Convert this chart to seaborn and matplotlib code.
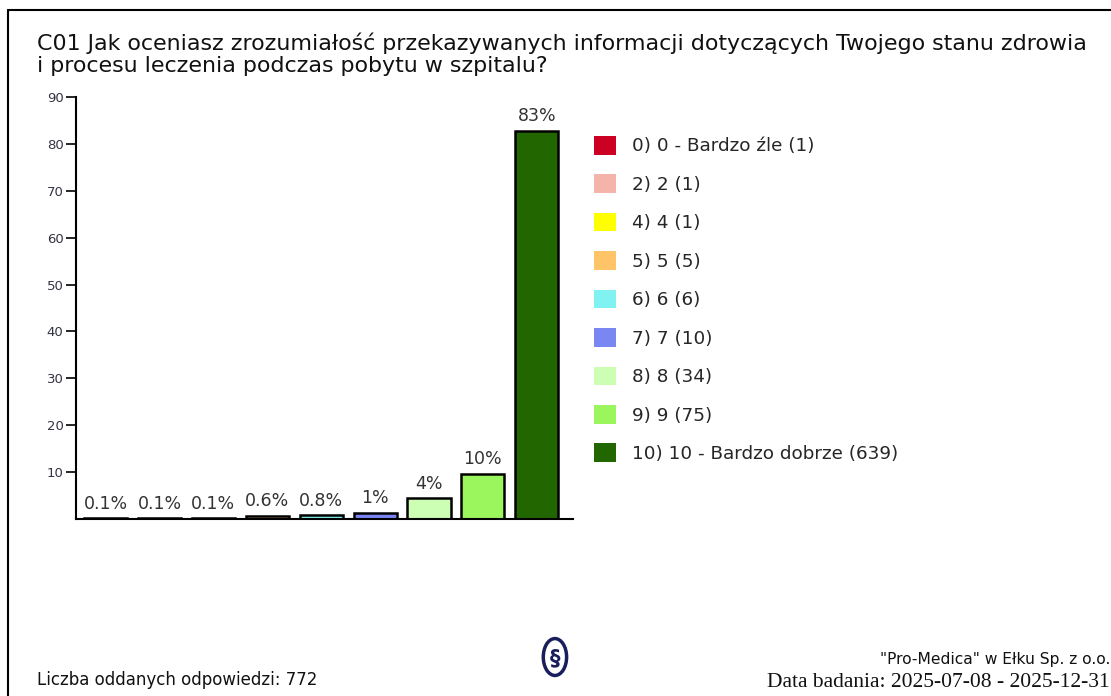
import matplotlib
matplotlib.use("Agg")
import matplotlib.pyplot as plt
import seaborn as sns
import pandas as pd
from matplotlib.patches import Patch, Ellipse
from matplotlib.lines import Line2D

categories = ["0) 0 - Bardzo źle", "2) 2", "4) 4", "5) 5", "6) 6", "7) 7", "8) 8", "9) 9", "10) 10 - Bardzo dobrze"]
counts = [1, 1, 1, 5, 6, 10, 34, 75, 639]
percents = [0.13, 0.13, 0.13, 0.65, 0.78, 1.3, 4.4, 9.7, 82.8]
bar_labels = ["0.1%", "0.1%", "0.1%", "0.6%", "0.8%", "1%", "4%", "10%", "83%"]
colors = ["#CC0022", "#F4B4AA", "#FFFF00", "#FFC468", "#80F2F2", "#7A86F2", "#CCFFB4", "#9BF55C", "#226600"]
yticks = [10, 20, 30, 40, 50, 60, 70, 80, 90]
title = ("C01 Jak oceniasz zrozumiałość przekazywanych informacji dotyczących Twojego stanu zdrowia\n"
         "i procesu leczenia podczas pobytu w szpitalu?")
total = 772

sns.set_theme(style="white")
plt.rcParams["font.family"] = ["DejaVu Sans"]

df = pd.DataFrame({"cat": categories, "pct": percents})

fig = plt.figure(figsize=(11.11, 6.96), dpi=100)
ax = fig.add_axes([0.0684, 0.2543, 0.4473, 0.6063])

sns.barplot(data=df, x="cat", y="pct", hue="cat", palette=colors, legend=False,
            width=0.8, edgecolor="black", linewidth=1.8, ax=ax, saturation=1)

for i, (p, lab) in enumerate(zip(percents, bar_labels)):
    ax.annotate(lab, (i, p), xytext=(0, 4), textcoords="offset points",
                ha="center", va="bottom", fontsize=12.5, color="#333333")

ax.set_xlim(-0.55, 8.67)
ax.set_ylim(0, 90)
ax.set_yticks(yticks)
ax.set_yticklabels([str(t) for t in yticks], fontsize=9.5, color="#333344")
ax.set_xticks([])
ax.set_xlabel("")
ax.set_ylabel("")
ax.tick_params(axis="y", direction="out", length=7, width=1.2, color="black", left=True, pad=2)
for s in ["top", "right"]:
    ax.spines[s].set_visible(False)
for s in ["left", "bottom"]:
    ax.spines[s].set_color("black")
    ax.spines[s].set_linewidth(1.5)

handles = [Patch(facecolor=c, edgecolor="none") for c in colors]
labels = [f"{c} ({n})" for c, n in zip(categories, counts)]
fig.legend(handles, labels, loc="upper left", bbox_to_anchor=(0.5346, 0.805),
           frameon=False, fontsize=13.2, handlelength=1.2, handleheight=1.2,
           labelspacing=1.03, handletextpad=0.9, borderaxespad=0, borderpad=0)

fig.text(0.033, 0.953, title, ha="left", va="top", fontsize=15.9, color="#111111",
         linespacing=1.12)

fig.text(0.033, 0.023, f"Liczba oddanych odpowiedzi: {total}", ha="left", va="center",
         fontsize=12, color="#111111")
fig.text(0.999, 0.052, "\"Pro-Medica\" w Ełku Sp. z o.o.", ha="right", va="center",
         fontsize=11.2, color="#111111")
fig.text(0.999, 0.02, "Data badania: 2025-07-08 - 2025-12-31", ha="right", va="center",
         fontsize=15.5, color="#111111", family="Liberation Serif")

# logo
fig.add_artist(Ellipse((0.4995, 0.056), 0.021, 0.053, transform=fig.transFigure,
                       fill=False, edgecolor="#1a1f5c", linewidth=2.5))
fig.text(0.4995, 0.054, "§", ha="center", va="center", fontsize=15, color="#1a1f5c",
         fontweight="bold")

# outer frame
fig.add_artist(Line2D([0.0072, 0.0072], [0, 0.986], transform=fig.transFigure, color="black", linewidth=1.5))
fig.add_artist(Line2D([0.0072, 1], [0.986, 0.986], transform=fig.transFigure, color="black", linewidth=1.5))

fig.savefig("out.png", dpi=100)
